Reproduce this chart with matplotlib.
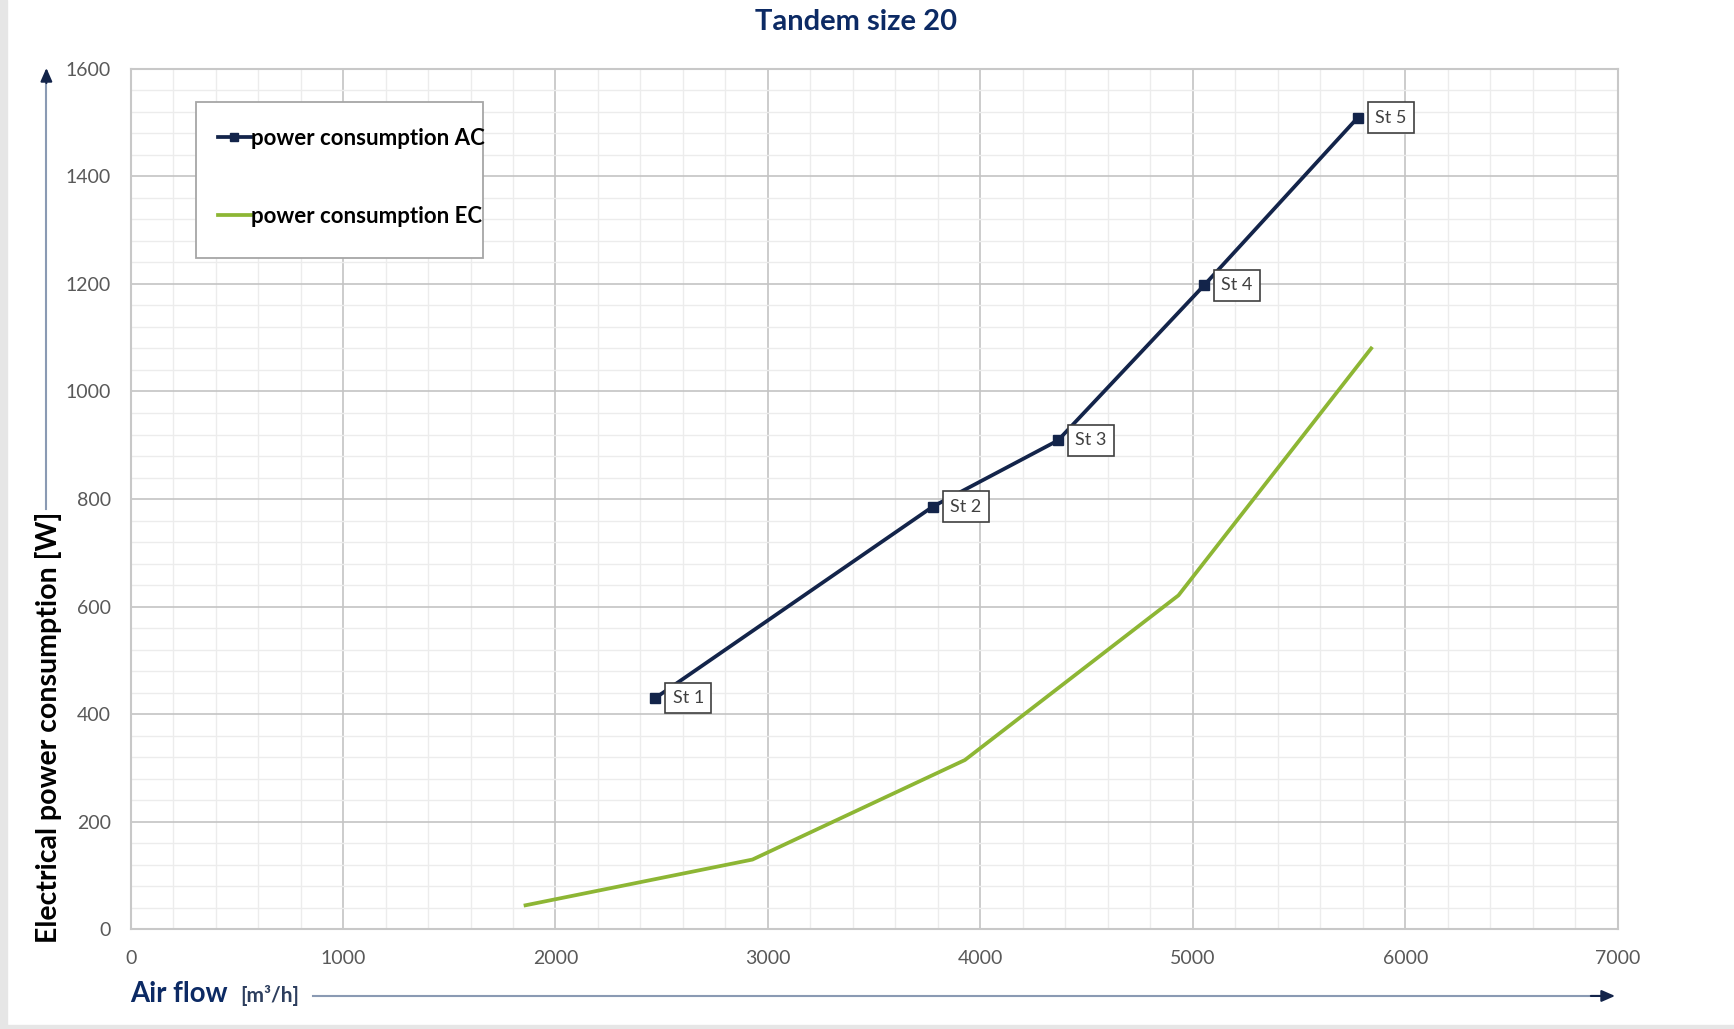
import matplotlib
matplotlib.use("Agg")
import matplotlib.pyplot as plt
from matplotlib.ticker import MultipleLocator
from matplotlib.patches import Rectangle

plt.rcParams['font.family'] = ['Lato', 'DejaVu Sans']

# power consumption per step, AC fan
ac_flow = [2469, 3776, 4365, 5052, 5776]
ac_power = [430, 786, 909, 1197, 1509]
ac_steps = ["St 1", "St 2", "St 3", "St 4", "St 5"]

# power consumption, EC fan
ec_flow = [1859, 2927, 3927, 4932, 5839]
ec_power = [45, 130, 315, 621, 1080]

x_ticks = [0, 1000, 2000, 3000, 4000, 5000, 6000, 7000]
y_ticks = [0, 200, 400, 600, 800, 1000, 1200, 1400, 1600]

navy = "#13244a"
green = "#8db634"
title_c = "#0c2a64"

fig = plt.figure(figsize=(17.34, 10.29), dpi=100)
ax = fig.add_axes([0.0753, 0.0967, 0.8577, 0.8366])

# light grey border strips
fig.patches.append(Rectangle((0, 0), 7 / 1734, 1, transform=fig.transFigure,
                             color="#e6e6e6", zorder=0))
fig.patches.append(Rectangle((0, 0), 1, 4 / 1029, transform=fig.transFigure,
                             color="#e6e6e6", zorder=0))

ax.plot(ac_flow, ac_power, color=navy, lw=2.7, marker="s", ms=7.5,
        label="power consumption AC", zorder=3)
ax.plot(ec_flow, ec_power, color=green, lw=2.7,
        label="power consumption EC", zorder=3)

for x, y, s in zip(ac_flow, ac_power, ac_steps):
    ax.annotate(s, (x, y), xytext=(12.5, 0), textcoords="offset points",
                ha="left", va="center", fontsize=13, color="#404040",
                bbox=dict(boxstyle="square,pad=0.4", fc="white",
                          ec="#404040", lw=1.2), zorder=4)

ax.set_xlim(0, 7000)
ax.set_ylim(0, 1600)
ax.set_xticks(x_ticks)
ax.set_yticks(y_ticks)
ax.xaxis.set_minor_locator(MultipleLocator(200))
ax.yaxis.set_minor_locator(MultipleLocator(40))
ax.grid(which="major", color="#c4c4c4", lw=1.2)
ax.grid(which="minor", color="#ececec", lw=1.0)
ax.set_axisbelow(True)
ax.tick_params(which="both", length=0)
ax.tick_params(axis="x", pad=15, labelsize=14, labelcolor="#595959")
ax.tick_params(axis="y", pad=14, labelsize=14, labelcolor="#595959")
for sp in ax.spines.values():
    sp.set_color("#c8c8c8")
    sp.set_linewidth(1.5)

# legend box (text runs right up to the frame)
ax.add_patch(Rectangle((0.044, 0.780), 0.193, 0.181, transform=ax.transAxes,
                       fc="white", ec="#a6a6a6", lw=1.3, zorder=5))
leg = ax.legend(loc="upper left", bbox_to_anchor=(0.0585, 0.931),
                frameon=False, prop=dict(weight="bold", size=16),
                handlelength=1.5, handletextpad=0.0, labelspacing=2.55,
                borderpad=0, borderaxespad=0, markerscale=0.8)
leg.set_zorder(6)
for t in leg.get_texts():
    t.set_color("black")

fig.text(0.4935, 0.979, "Tandem size 20", ha="center", va="center",
         fontsize=21, fontweight="bold", color=title_c)

# y axis arrow
ax.plot([-0.0566, -0.0566], [0.488, 0.99], transform=ax.transAxes,
        color="#8a9ab3", lw=1.5, clip_on=False)
ax.annotate("", xy=(-0.0566, 1.004), xytext=(-0.0566, 0.98),
            xycoords="axes fraction", annotation_clip=False,
            arrowprops=dict(arrowstyle="-|>,head_length=0.8,head_width=0.35",
                            color=navy, lw=1.5))
ax.text(-0.0553, -0.016, "Electrical power consumption [W]", rotation=90,
        ha="center", va="bottom", fontsize=20.5, fontweight="bold",
        color="black", transform=ax.transAxes)

# x axis arrow
ax.plot([0.1227, 0.99], [-0.0772, -0.0772], transform=ax.transAxes,
        color="#8a9ab3", lw=1.5, clip_on=False)
ax.annotate("", xy=(1.0, -0.0772), xytext=(0.98, -0.0772),
            xycoords="axes fraction", annotation_clip=False,
            arrowprops=dict(arrowstyle="-|>,head_length=0.8,head_width=0.35",
                            color=navy, lw=1.5))
ax.text(0.0, -0.0752, "Air flow", ha="left", va="center", fontsize=19.8,
        fontweight="bold", color=title_c, transform=ax.transAxes)
ax.text(0.0736, -0.0772, "[m³/h]", ha="left", va="center", fontsize=15,
        fontweight="bold", color="#2d3e5e", transform=ax.transAxes)

fig.savefig("out.png", dpi=100)
